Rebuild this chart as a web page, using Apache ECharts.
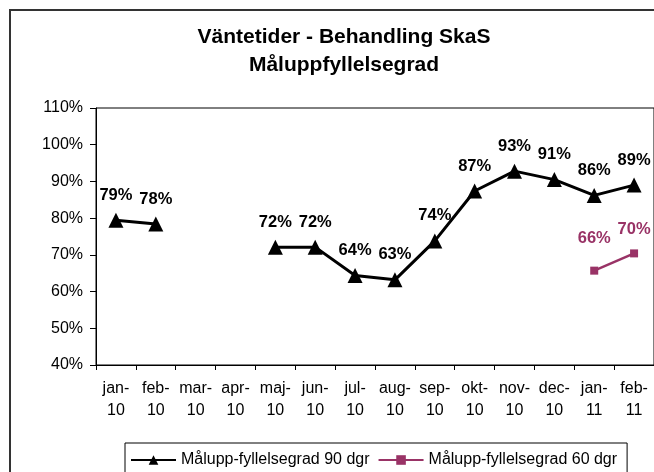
<!DOCTYPE html>
<html>
<head>
<meta charset="utf-8">
<script src="https://cdn.jsdelivr.net/npm/echarts@6/dist/echarts.min.js"></script>
<style>
  html, body { margin: 0; padding: 0; background: #fff; }
  #chart { width: 654px; height: 472px; }
</style>
</head>
<body>
<div id="chart"></div>
<script>
const categories = ['jan-\n10','feb-\n10','mar-\n10','apr-\n10','maj-\n10','jun-\n10','jul-\n10','aug-\n10','sep-\n10','okt-\n10','nov-\n10','dec-\n10','jan-\n11','feb-\n11'];
const series90Name = 'Målupp-fyllelsegrad 90 dgr';
const series90 = [79.4, 78.4, null, null, 72.1, 72.1, 64.4, 63.2, 73.8, 87.4, 92.8, 90.5, 86.2, 89.0];
const series60Name = 'Målupp-fyllelsegrad 60 dgr';
const series60 = [null, null, null, null, null, null, null, null, null, null, null, null, 65.7, 70.4];
const yTicks = [40, 50, 60, 70, 80, 90, 100, 110];

const FONT = '"Liberation Sans", Arial, sans-serif';
const chart = echarts.init(document.getElementById('chart'), null, { renderer: 'canvas' });

const pct = p => Math.round(p.value) + '%';

const data60 = series60.map((v, i) => {
  if (v === null) return null;
  if (i === 12) return { value: v, label: { distance: 20 } };
  return v;
});

chart.setOption({
  backgroundColor: '#ffffff',
  animation: false,
  title: {
    text: 'Väntetider - Behandling SkaS\nMåluppfyllelsegrad',
    left: 344,
    top: 23,
    textAlign: 'center',
    padding: 0,
    textStyle: { fontFamily: FONT, fontSize: 21, fontWeight: 'bold', color: '#000', lineHeight: 28 }
  },
  graphic: [{
    type: 'rect',
    shape: { x: 10, y: 10, width: 700, height: 520 },
    style: { fill: 'none', stroke: '#333', lineWidth: 2 },
    silent: true,
    z: -1
  }],
  legend: {
    left: 125,
    top: 443,
    padding: [9, 10, 14, 5],
    borderColor: '#000',
    borderWidth: 1,
    itemWidth: 45,
    itemHeight: 12,
    itemGap: 8,
    textStyle: { fontFamily: FONT, fontSize: 16, color: '#000' },
    data: [series90Name, series60Name]
  },
  grid: {
    left: 96, top: 108, width: 561, height: 257,
    show: true, borderColor: '#000', borderWidth: 1, backgroundColor: 'transparent'
  },
  xAxis: {
    type: 'category',
    data: categories,
    boundaryGap: true,
    axisLine: { lineStyle: { color: '#000', width: 1 } },
    axisTick: { show: true, length: 5, lineStyle: { color: '#000' } },
    axisLabel: { fontFamily: FONT, fontSize: 16, color: '#000', margin: 13, lineHeight: 22, interval: 0 },
    splitLine: { show: false }
  },
  yAxis: {
    type: 'value',
    min: yTicks[0],
    max: yTicks[yTicks.length - 1],
    interval: 10,
    axisLine: { show: true, lineStyle: { color: '#000', width: 1 } },
    axisTick: { show: true, length: 6, lineStyle: { color: '#000' } },
    axisLabel: { fontFamily: FONT, fontSize: 16, color: '#000', margin: 13, formatter: '{value}%' },
    splitLine: { show: false }
  },
  series: [
    {
      name: series90Name,
      type: 'line',
      data: series90,
      connectNulls: false,
      symbol: 'triangle',
      symbolSize: 15,
      itemStyle: { color: '#000' },
      lineStyle: { color: '#000', width: 3 },
      label: { show: true, position: 'top', distance: 9, formatter: pct,
               fontFamily: FONT, fontSize: 16.5, fontWeight: 'bold', color: '#000' },
      z: 3
    },
    {
      name: series60Name,
      type: 'line',
      data: data60,
      connectNulls: false,
      symbol: 'rect',
      symbolSize: 8,
      itemStyle: { color: '#993366' },
      lineStyle: { color: '#993366', width: 2.5 },
      label: { show: true, position: 'top', distance: 11, formatter: pct,
               fontFamily: FONT, fontSize: 16.5, fontWeight: 'bold', color: '#993366' },
      z: 2
    }
  ]
});
</script>
</body>
</html>
